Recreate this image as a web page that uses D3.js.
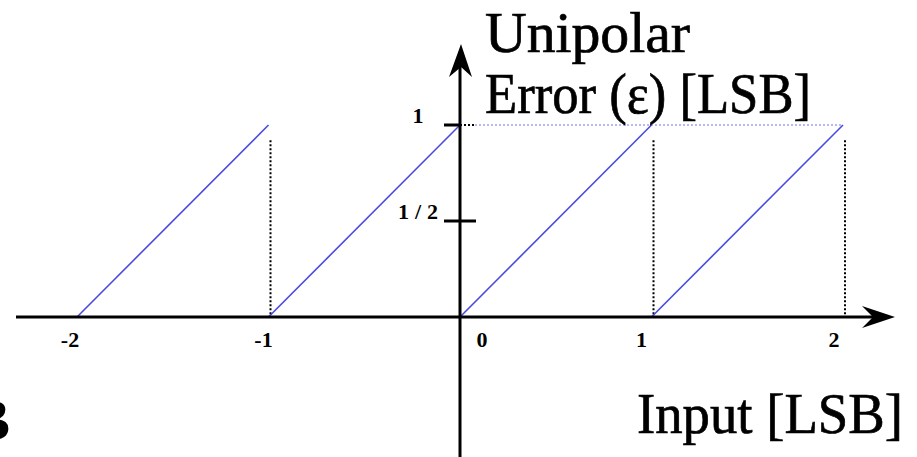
<!DOCTYPE html>
<html>
<head>
<meta charset="utf-8">
<script src="https://cdn.jsdelivr.net/npm/d3@7"></script>
<style>
  html, body { margin: 0; padding: 0; background: #fff; }
  svg { display: block; }
  .serif { font-family: "Liberation Serif", "DejaVu Serif", serif; }
</style>
</head>
<body>
<svg id="chart" width="917" height="457"></svg>
<script>
// Quantization error of a unipolar converter: a sawtooth from 0 to 1 LSB per code
const segStarts = [-2, -1, 0, 1];          // input where each ramp begins
const segEnds   = [-1, 0, 1, 2];           // input where each ramp reaches 1 LSB
const errLow    = [0, 0, 0, 0];
const errHigh   = [1, 1, 1, 1];
const dropAt    = [-1, 1, 2];              // dotted drop-back lines
const xTickVals   = [-2, -1, 0, 1, 2];
const xTickLabels = ["-2", "-1", "0", "1", "2"];
const yTickVals   = [1, 0.5];
const yTickLabels = ["1", "1/2"];

const svg = d3.select("#chart");

const x = d3.scaleLinear().domain([-2, 2]).range([77, 843]);
const y = d3.scaleLinear().domain([0, 1]).range([317, 125]);

// Dotted guide at 1 LSB: short black stub, then pale blue to the last ramp
svg.append("line")
  .attr("x1", x(0)).attr("x2", x(0) + 15)
  .attr("y1", y(1)).attr("y2", y(1))
  .attr("stroke", "#000").attr("stroke-width", 2).attr("stroke-dasharray", "2,2");
svg.append("line")
  .attr("x1", x(0) + 15).attr("x2", x(2))
  .attr("y1", y(1)).attr("y2", y(1))
  .attr("stroke", "#b8b8f4").attr("stroke-width", 2).attr("stroke-dasharray", "2,2");

// Dotted drop lines
svg.selectAll("line.drop").data(dropAt).join("line")
  .attr("class", "drop")
  .attr("x1", d => x(d) + 2).attr("x2", d => x(d) + 2)
  .attr("y1", y(0.92)).attr("y2", y(0))
  .attr("stroke", "#000").attr("stroke-width", 2).attr("stroke-dasharray", "2,2");

// Ramps
const ramps = segStarts.map((s, i) => ({ s, e: segEnds[i], lo: errLow[i], hi: errHigh[i] }));
svg.selectAll("line.ramp").data(ramps).join("line")
  .attr("class", "ramp")
  .attr("x1", d => x(d.s)).attr("y1", d => y(d.lo))
  .attr("x2", d => x(d.e)).attr("y2", d => y(d.hi))
  .attr("stroke", "#4a4ae0").attr("stroke-width", 1.6);

// X axis with arrow
svg.append("line")
  .attr("x1", 16).attr("x2", 875)
  .attr("y1", y(0)).attr("y2", y(0))
  .attr("stroke", "#000").attr("stroke-width", 3);
svg.append("path")
  .attr("d", `M895,${y(0)} L862,${y(0) - 11} L873,${y(0)} L862,${y(0) + 11} Z`)
  .attr("fill", "#000");

// Y axis with arrow
svg.append("line")
  .attr("x1", x(0)).attr("x2", x(0))
  .attr("y1", 457).attr("y2", 65)
  .attr("stroke", "#000").attr("stroke-width", 3);
svg.append("path")
  .attr("d", `M${x(0) + 1},44 L${x(0) - 11},77 L${x(0) + 1},67 L${x(0) + 12},77 Z`)
  .attr("fill", "#000");

// Y ticks
svg.append("line")
  .attr("x1", 444).attr("x2", x(0))
  .attr("y1", y(1)).attr("y2", y(1))
  .attr("stroke", "#000").attr("stroke-width", 3);
svg.append("line")
  .attr("x1", 444).attr("x2", 476)
  .attr("y1", y(0.5)).attr("y2", y(0.5))
  .attr("stroke", "#000").attr("stroke-width", 3);

// Tick labels
const xLabelShift = [-7, -5, 22, -10, -9];
svg.selectAll("text.xt").data(xTickVals).join("text")
  .attr("class", "xt serif")
  .attr("x", (d, i) => x(d) + xLabelShift[i])
  .attr("y", 347)
  .attr("text-anchor", "middle")
  .attr("font-size", 22).attr("font-weight", "bold")
  .text((d, i) => xTickLabels[i]);

svg.selectAll("text.yt").data(yTickVals).join("text")
  .attr("class", "yt serif")
  .attr("x", d => d === 1 ? 418 : 398)
  .attr("y", d => y(d) - 2)
  .attr("text-anchor", d => d === 1 ? "middle" : "start")
  .attr("font-size", 22).attr("font-weight", "bold")
  .attr("textLength", d => d === 1 ? null : 40)
  .attr("lengthAdjust", "spacing")
  .text((d, i) => yTickLabels[i]);

// Axis titles (thin stroke gives the heavier text face)
const titleStyle = sel => sel.attr("class", "serif")
  .attr("fill", "#000").attr("stroke", "#000").attr("stroke-width", 0.7);
svg.append("text").call(titleStyle)
  .attr("x", 485).attr("y", 52)
  .attr("font-size", 56)
  .attr("textLength", 205).attr("lengthAdjust", "spacingAndGlyphs")
  .text("Unipolar");
svg.append("text").call(titleStyle)
  .attr("x", 485).attr("y", 113)
  .attr("font-size", 56)
  .attr("textLength", 326).attr("lengthAdjust", "spacingAndGlyphs")
  .text("Error (ε) [LSB]");
svg.append("text").call(titleStyle)
  .attr("x", 637).attr("y", 433)
  .attr("font-size", 58)
  .attr("textLength", 266).attr("lengthAdjust", "spacingAndGlyphs")
  .text("Input [LSB]");

// Panel letter, clipped at the left edge
svg.append("text").attr("class", "serif")
  .attr("x", 10).attr("y", 440)
  .attr("text-anchor", "end")
  .attr("font-size", 60).attr("font-weight", "bold")
  .text("B");
</script>
</body>
</html>
